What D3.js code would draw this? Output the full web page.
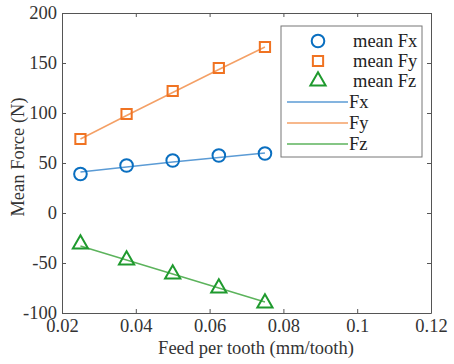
<!DOCTYPE html>
<html><head><meta charset="utf-8">
<script src="https://cdn.jsdelivr.net/npm/d3@7"></script>
<style>body{margin:0;background:#fff}svg{display:block}</style>
</head><body>
<script>
const feed = [0.025, 0.0375, 0.05, 0.0625, 0.075];
const meanFx = [39, 47.5, 52.5, 57.5, 59.5];
const meanFy = [74, 99, 122, 145, 166];
const meanFz = [-31, -47, -61, -75, -90];
const fitFx = [41, 46, 51, 55.5, 60];
const fitFy = [74, 97.5, 120.5, 143.5, 166];
const fitFz = [-33, -47, -61, -75, -89];
const xTicks = [0.02, 0.04, 0.06, 0.08, 0.1, 0.12];
const yTicks = [-100, -50, 0, 50, 100, 150, 200];

const W = 454, H = 364;
const m = {l: 62, r: 23, t: 13, b: 51};
const svg = d3.select("body").append("svg").attr("width", W).attr("height", H);
const x = d3.scaleLinear().domain([0.02, 0.12]).range([m.l, W - m.r]);
const y = d3.scaleLinear().domain([-100, 200]).range([H - m.b, m.t]);
const font = "'Liberation Serif','Times New Roman',serif";
const fs = "18.5px";
const axisCol = "#555";
const txtCol = "#333";

function styleAxis(g, hideText) {
  g.select(".domain").attr("stroke", axisCol);
  g.selectAll(".tick line").attr("stroke", axisCol);
  g.selectAll(".tick text").attr("fill", txtCol).style("font-family", font).style("font-size", fs);
  if (hideText) g.selectAll(".tick text").remove();
}
svg.append("g").attr("transform", `translate(0,${H - m.b})`)
  .call(d3.axisBottom(x).tickValues(xTicks).tickSizeInner(-4).tickSizeOuter(0).tickPadding(6).tickFormat(d => String(+d.toFixed(2))))
  .call(g => styleAxis(g));
svg.append("g").attr("transform", `translate(0,${m.t})`)
  .call(d3.axisTop(x).tickValues(xTicks).tickSizeInner(-4).tickSizeOuter(0))
  .call(g => styleAxis(g, true));
svg.append("g").attr("transform", `translate(${m.l},0)`)
  .call(d3.axisLeft(y).tickValues(yTicks).tickSizeInner(-4).tickSizeOuter(0).tickPadding(5).tickFormat(d => String(d)))
  .call(g => styleAxis(g));
svg.append("g").attr("transform", `translate(${W - m.r},0)`)
  .call(d3.axisRight(y).tickValues(yTicks).tickSizeInner(-4).tickSizeOuter(0))
  .call(g => styleAxis(g, true));

svg.append("text").attr("x", 256).attr("y", 354).attr("text-anchor", "middle")
  .attr("fill", txtCol).style("font-family", font).style("font-size", fs).text("Feed per tooth (mm/tooth)");
svg.append("text").attr("transform", `translate(24,157) rotate(-90)`).attr("text-anchor", "middle")
  .attr("fill", txtCol).style("font-family", font).style("font-size", fs).text("Mean Force (N)");

const series = [
  {vals: meanFx, fit: fitFx, mc: "#0a6fc0", lc: "#5b9bd5", sym: d3.symbolCircle, size: 125, name: "Fx"},
  {vals: meanFy, fit: fitFy, mc: "#f07322", lc: "#f4a066", sym: d3.symbolSquare, size: 105, name: "Fy"},
  {vals: meanFz, fit: fitFz, mc: "#1f9a2e", lc: "#5cb35c", sym: d3.symbolTriangle, size: 100, name: "Fz"}
];
const line = d3.line().x((d, i) => x(feed[i])).y(d => y(d));
series.forEach(s => {
  svg.append("path").attr("d", line(s.fit)).attr("fill", "none").attr("stroke", s.lc).attr("stroke-width", 1.5);
});
series.forEach(s => {
  svg.selectAll(null).data(s.vals).enter().append("path")
    .attr("d", d3.symbol().type(s.sym).size(s.size))
    .attr("transform", (d, i) => `translate(${x(feed[i])},${y(d)})`)
    .attr("fill", "none").attr("stroke", s.mc).attr("stroke-width", 2);
});

// legend
const lg = svg.append("g");
lg.append("rect").attr("x", 281).attr("y", 26).attr("width", 141).attr("height", 131)
  .attr("fill", "#fff").attr("stroke", "#777").attr("stroke-width", 1);
const rowsY = [41, 61, 81, 102, 123, 144];
series.forEach((s, i) => {
  lg.append("path").attr("d", d3.symbol().type(s.sym).size(s.size))
    .attr("transform", `translate(318,${rowsY[i]})`).attr("fill", "none").attr("stroke", s.mc).attr("stroke-width", 2);
  lg.append("text").attr("x", 353).attr("y", rowsY[i] + 6).attr("fill", "#222")
    .style("font-family", font).style("font-size", fs).text("mean " + s.name);
});
series.forEach((s, i) => {
  const yy = rowsY[i + 3];
  lg.append("line").attr("x1", 287).attr("x2", 348).attr("y1", yy).attr("y2", yy).attr("stroke", s.lc).attr("stroke-width", 1.5);
  lg.append("text").attr("x", 349).attr("y", yy + 6).attr("fill", "#222")
    .style("font-family", font).style("font-size", fs).text(s.name);
});
</script>
</body></html>
